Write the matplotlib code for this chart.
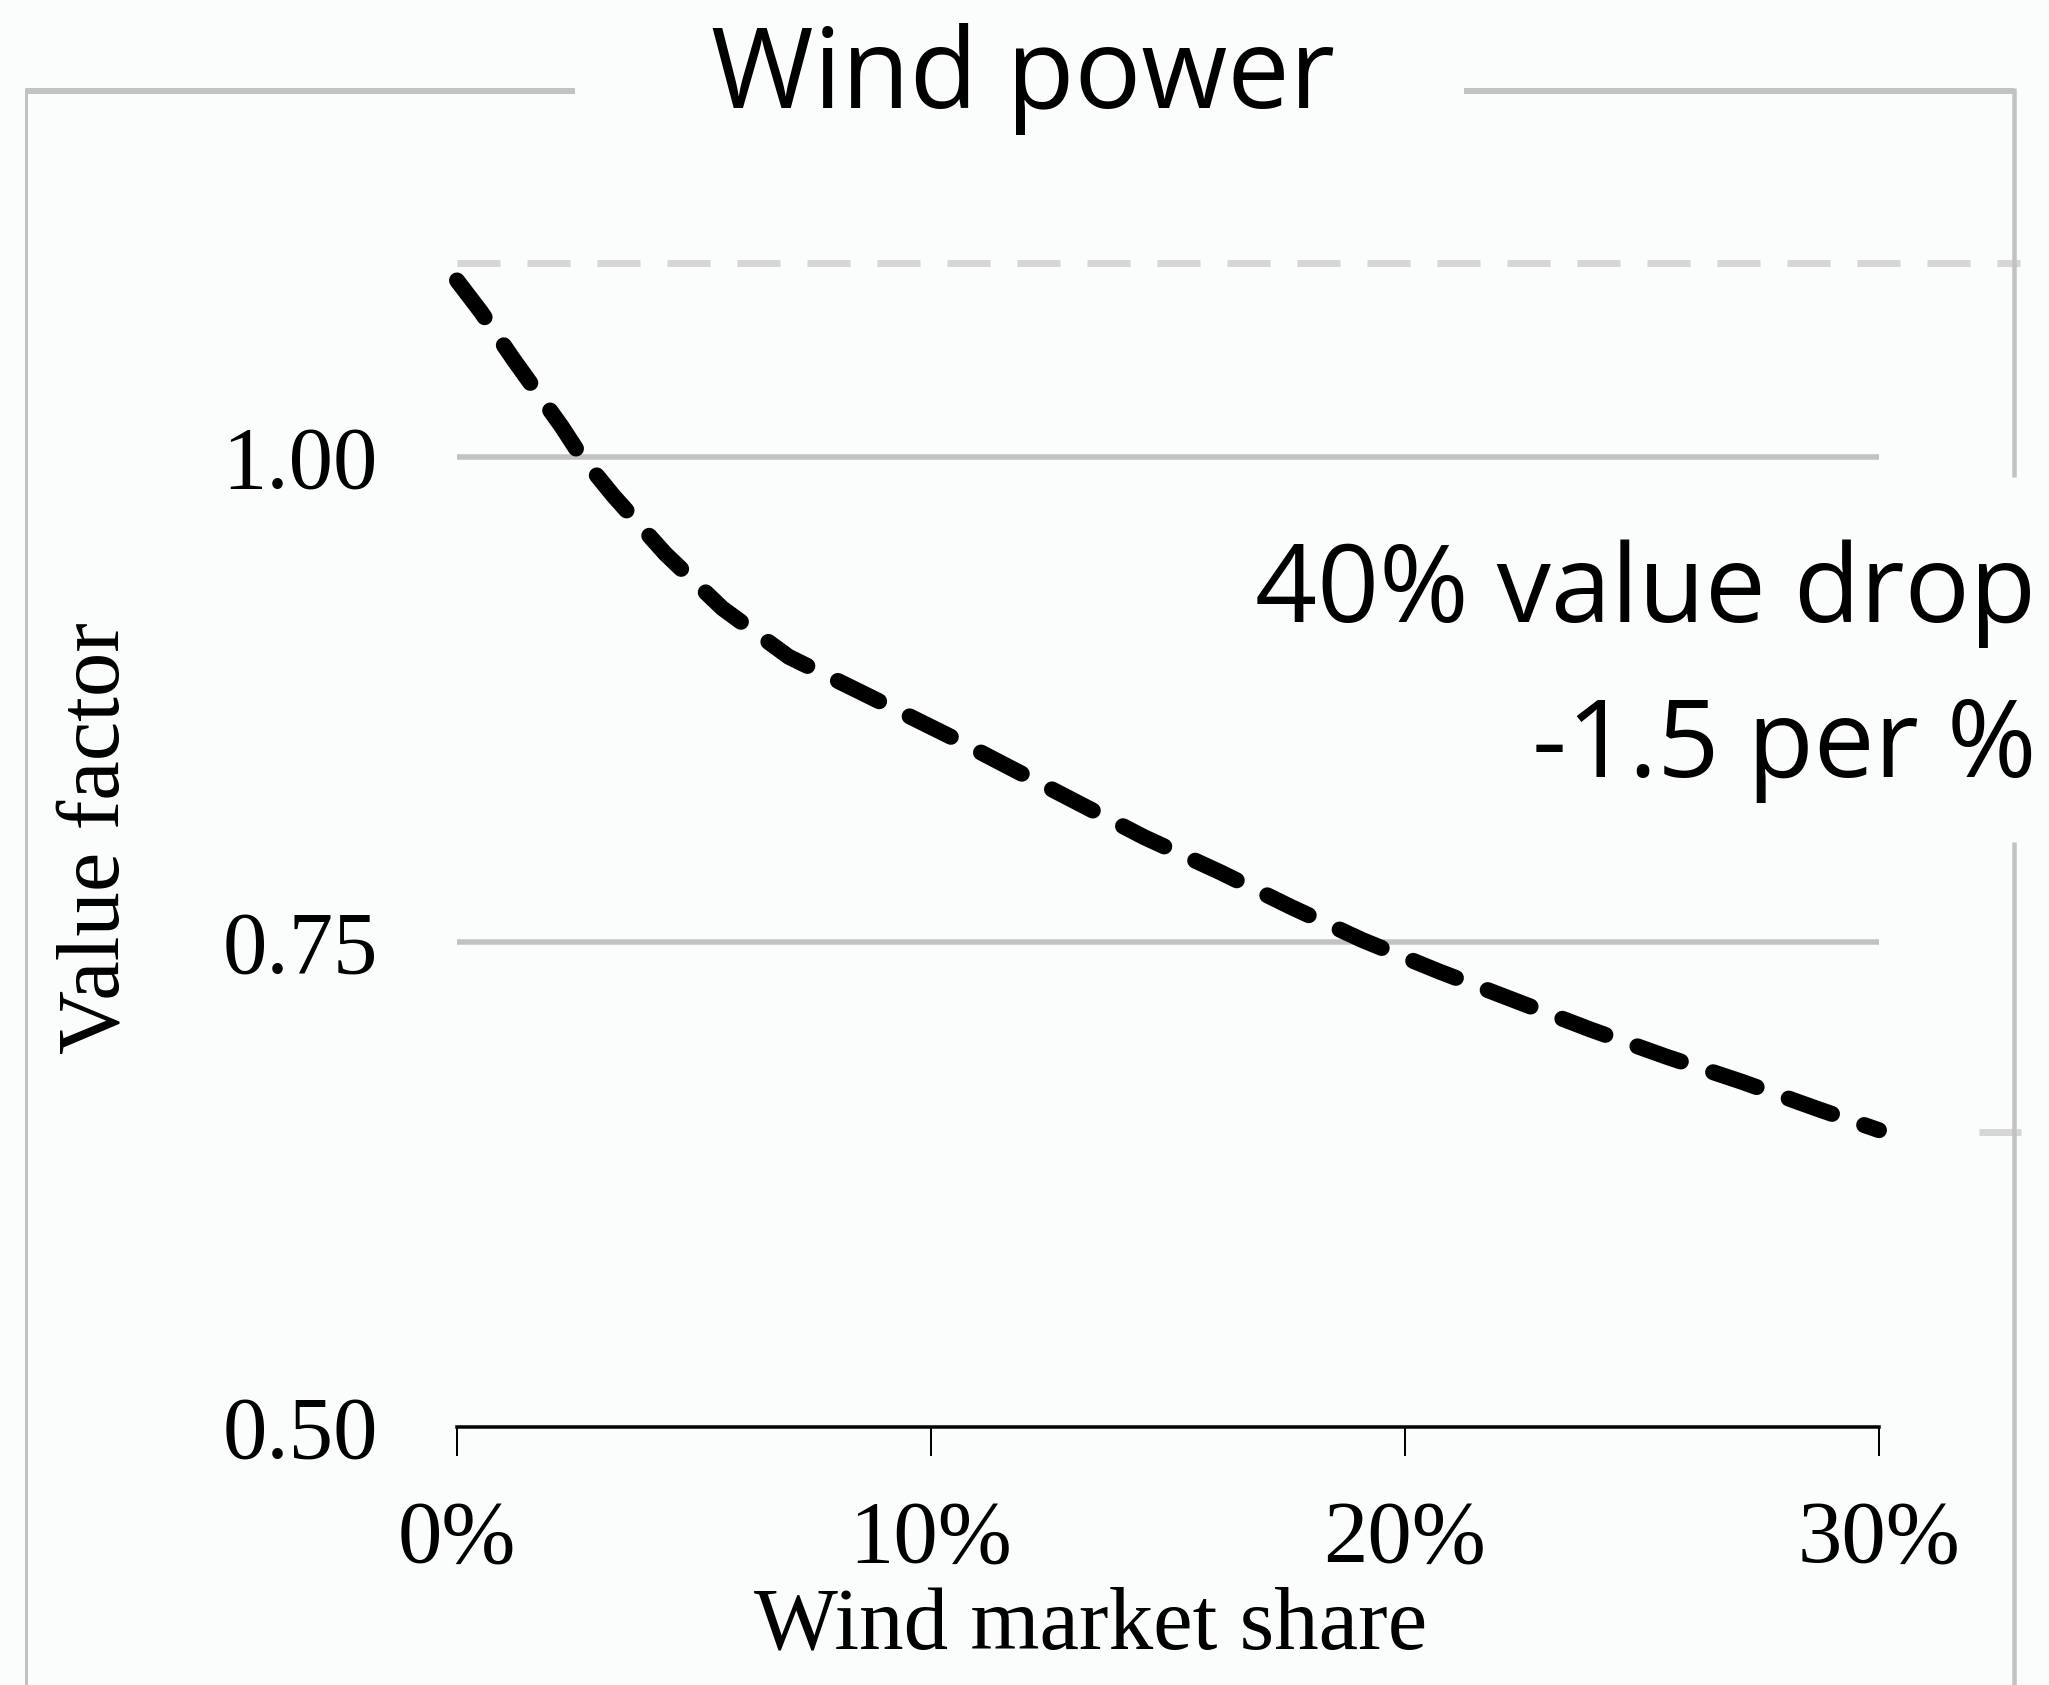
import matplotlib
matplotlib.use('Agg')
import matplotlib.pyplot as plt
from matplotlib.lines import Line2D

plt.rcParams['lines.scale_dashes'] = False

# ---- data ----
share = [0, 0.5, 1.2, 2.2, 2.6, 3.3, 4.4, 5.6, 7.0, 8.5, 10.4, 11.5, 13.0,
         14.5, 16.1, 17.6, 19.1, 20.7, 22.3, 23.9, 25.5, 27.1, 28.7, 30]
value_factor = [1.091, 1.075, 1.050, 1.016, 1.001, 0.980, 0.950, 0.922, 0.897,
                0.879, 0.856, 0.842, 0.823, 0.804, 0.786, 0.768, 0.751, 0.735,
                0.720, 0.705, 0.691, 0.678, 0.664, 0.653]
x_ticks = [0, 10, 20, 30]
x_tick_labels = ['0%', '10%', '20%', '30%']
y_ticks = [0.50, 0.75, 1.00]
y_tick_labels = ['0.50', '0.75', '1.00']
start_value = 1.10
end_value = 0.652
title_text = 'Wind power'
annotation_lines = ['40% value drop', '-1.5 per %']
x_label = 'Wind market share'
y_label = 'Value factor'

# ---- style ----
W, H, DPI = 2049, 1685, 100
BG = '#fafdfb'
GRID = '#c2c2c2'
LIGHT = '#d6d6d6'
SERIF = ['Liberation Serif', 'DejaVu Serif']
SANS = ['Open Sans', 'DejaVu Sans']


def P(v):  # pixels -> points
    return v * 72.0 / DPI


fig = plt.figure(figsize=(W / DPI, H / DPI), dpi=DPI, facecolor=BG)
ax = fig.add_axes([457 / W, 1 - 1427 / H, (1879 - 457) / W, (1427 - 263) / H])
ax.set_facecolor('none')
ax.set_xlim(0, 30)
ax.set_ylim(0.5, 1.10)

for s in ['top', 'right', 'left']:
    ax.spines[s].set_visible(False)
ax.spines['bottom'].set_linewidth(P(3.5))
ax.spines['bottom'].set_color('black')
ax.spines['bottom'].set_zorder(4)

ax.set_xticks(x_ticks)
ax.set_xticklabels(x_tick_labels, fontfamily=SERIF, fontsize=64)
ax.set_yticks(y_ticks)
ax.set_yticklabels(y_tick_labels, fontfamily=SERIF, fontsize=64)
ax.tick_params(axis='x', direction='out', length=P(29), width=P(2),
               color='black', pad=P(44))
ax.tick_params(axis='y', length=0, pad=P(79))

# gridlines
for yv in y_ticks[1:]:
    ax.axhline(yv, color=GRID, lw=P(5.5), zorder=1)

# reference dashed lines (start and end value)
ax.plot([0, 32.97], [start_value, start_value], color=LIGHT, lw=P(7),
        dashes=(P(43), P(27)), dash_capstyle='butt', clip_on=False, zorder=1)
ax.plot([32.1, 33.0], [end_value, end_value], color=LIGHT, lw=P(7),
        clip_on=False, zorder=1, solid_capstyle='butt')

# main curve
ax.plot(share, value_factor, color='black', lw=P(16),
        dashes=(P(46), P(34)), dash_capstyle='round', dash_joinstyle='round',
        clip_on=False, zorder=5)

# axis labels
fig.text(1091 / W, 1 - 1648 / H, x_label, ha='center', va='baseline',
         fontfamily=SERIF, fontsize=64)
fig.text(97 / W, 1 - 838 / H, y_label, ha='center', va='center',
         rotation=90, fontfamily=SERIF, fontsize=64)

# title
fig.text(1023 / W, 1 - 108 / H, title_text, ha='center', va='baseline',
         fontfamily=SANS, fontsize=80)

# annotation
fig.text(2036 / W, 1 - 622 / H, annotation_lines[0], ha='right',
         va='baseline', fontfamily=SANS, fontsize=78)
fig.text(2036 / W, 1 - 777 / H, annotation_lines[1], ha='right',
         va='baseline', fontfamily=SANS, fontsize=78)


# frame lines
def fline(xs, ys, lw):
    fig.add_artist(Line2D([x / W for x in xs], [1 - y / H for y in ys],
                          transform=fig.transFigure, color=GRID, lw=P(lw),
                          solid_capstyle='butt'))


fline([26, 575], [91, 91], 6)
fline([1464, 2014], [91, 91], 6)
fline([26, 26], [88, 1685], 3)
fline([2014, 2014], [88, 477], 4.5)
fline([2014, 2014], [842, 1685], 4.5)

fig.savefig('out.png', dpi=DPI, facecolor=BG)
